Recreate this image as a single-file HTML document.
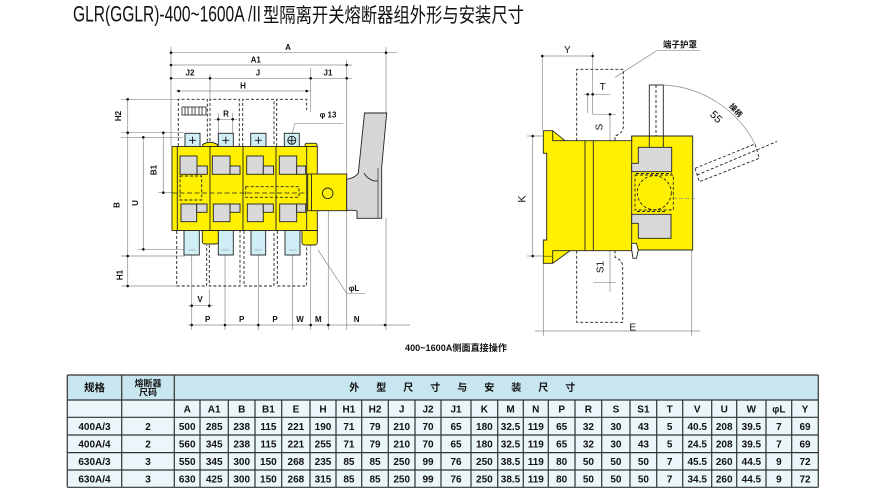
<!DOCTYPE html>
<html><head><meta charset="utf-8">
<style>
html,body{margin:0;padding:0;background:#fff;width:888px;height:499px;overflow:hidden}
svg{display:block}
text{font-family:"Liberation Sans","Noto Sans CJK SC",sans-serif;fill:#111}
</style></head><body>
<svg width="888" height="499" viewBox="0 0 888 499" xmlns="http://www.w3.org/2000/svg">
<rect width="888" height="499" fill="#fff"/>

<!-- Title -->
<text x="73" y="21.5" font-size="22" textLength="188" lengthAdjust="spacingAndGlyphs">GLR(GGLR)-400~1600A /II</text>
<text x="263" y="22" font-size="20" textLength="261" lengthAdjust="spacingAndGlyphs" style="font-family:'Noto Sans CJK SC',sans-serif">型隔离开关熔断器组外形与安装尺寸</text>

<!-- ============ LEFT DRAWING ============ -->
<!-- dimension lines -->
<g stroke="#8a8a8a" stroke-width="0.7" fill="none">
  <path d="M171,52.7H397 M171,65H352 M171,78.3H352 M176,91H311"/>
  <path d="M171,47V146 M210,74V100 M310.7,68V112 M346.7,60V174 M346.7,211V330 M386,47V113 M386,218V330 M328.3,199V330 M310.7,245V330"/>
  <path d="M127.7,99.3V286 M121,99.3H178 M121,132.7H184 M121,137.3H183 M143.3,137.3V249.3 M121,256H185 M138,249.3H185 M121,286H177 M163.3,132.7V192.7 M158,192.7H172"/>
  <path d="M214,119.3H237 M218.3,113V133 M232.7,113V133"/>
  <path d="M188,305.7H213 M188,325H410 M191.7,245V330 M225,245V330 M258.3,245V330 M292.7,245V330 M209.3,290V308"/>
  <path d="M318,250L346.7,293.3H365"/>
  <path d="M291.7,135L295,123.3H343.3"/>
</g>
<g fill="#111">
  <circle cx="171" cy="52.7" r="1.3"/><circle cx="386" cy="52.7" r="1.3"/>
  <circle cx="171" cy="65" r="1.3"/><circle cx="346.7" cy="65" r="1.3"/>
  <circle cx="171" cy="78.3" r="1.3"/><circle cx="210" cy="78.3" r="1.3"/><circle cx="310.7" cy="78.3" r="1.3"/><circle cx="346.7" cy="78.3" r="1.3"/>
  <circle cx="178.7" cy="91" r="1.3"/><circle cx="306.7" cy="91" r="1.3"/>
  <circle cx="127.7" cy="99.3" r="1.3"/><circle cx="127.7" cy="132.7" r="1.3"/><circle cx="143.3" cy="137.3" r="1.3"/>
  <circle cx="163.3" cy="132.7" r="1.3"/><circle cx="163.3" cy="192.7" r="1.3"/><circle cx="143.3" cy="249.3" r="1.3"/>
  <circle cx="127.7" cy="256" r="1.3"/><circle cx="127.7" cy="286" r="1.3"/>
  <circle cx="218.3" cy="119.3" r="1.3"/><circle cx="232.7" cy="119.3" r="1.3"/>
  <circle cx="191.7" cy="305.7" r="1.3"/><circle cx="209.3" cy="305.7" r="1.3"/>
  <circle cx="191.7" cy="325" r="1.3"/><circle cx="225" cy="325" r="1.3"/><circle cx="258.3" cy="325" r="1.3"/>
  <circle cx="310.7" cy="325" r="1.3"/><circle cx="328.3" cy="325" r="1.3"/><circle cx="385" cy="325" r="1.3"/>
</g>
<g font-size="8" font-weight="bold" text-anchor="middle">
  <text x="288" y="50">A</text>
  <text x="255.7" y="62.5">A1</text>
  <text x="190" y="75.5">J2</text>
  <text x="258" y="75.5">J</text>
  <text x="328" y="75.5">J1</text>
  <text x="243" y="88.5">H</text>
  <text x="226" y="116.5">R</text>
  <text x="328" y="117.5">φ 13</text>
  <text x="200" y="302">V</text>
  <text x="207.7" y="322">P</text>
  <text x="241.7" y="322">P</text>
  <text x="275" y="322">P</text>
  <text x="300" y="322">W</text>
  <text x="318.3" y="322">M</text>
  <text x="356.7" y="322">N</text>
  <text x="354" y="291">φL</text>
  <text transform="translate(118,116) rotate(-90)" dy="3">H2</text>
  <text transform="translate(153.3,170) rotate(-90)" dy="3">B1</text>
  <text transform="translate(116.7,205) rotate(-90)" dy="3">B</text>
  <text transform="translate(135,203) rotate(-90)" dy="3">U</text>
  <text transform="translate(119.3,275) rotate(-90)" dy="3">H1</text>
</g>

<!-- dashed covers -->
<g stroke="#222" stroke-width="0.9" fill="none" stroke-dasharray="3,2">
  <path d="M178.3,146V99.3H207.3V146 M210,146V99.3H239.3V146 M242.7,146V99.3H274V146 M276.7,146V99.3H306.7V110"/>
  <path d="M176.7,231V286H206.7V245 M209.3,245V286H240V231 M244,231V286H274V231 M277.3,231V286H306.7V245"/>
</g>
<!-- fuse icon -->
<g stroke="#222" stroke-width="0.8" fill="#fff">
  <rect x="182" y="107" width="24" height="8"/>
  <path d="M185,107V115 M188,107V115 M192,107V115 M195,107V115 M199,107V115 M202,107V115" fill="none"/>
</g>

<!-- terminals -->
<g fill="#cfeef6" stroke="#222" stroke-width="0.9">
  <rect x="185" y="133.3" width="15" height="14"/>
  <rect x="218.3" y="133.3" width="15" height="14"/>
  <rect x="250.7" y="133.3" width="15.3" height="14"/>
  <rect x="284.3" y="133.3" width="15" height="14"/>
  <rect x="184" y="230.5" width="15.3" height="24.5"/>
  <rect x="218.3" y="230.5" width="15" height="24.5"/>
  <rect x="251" y="230.5" width="14.7" height="24.5"/>
  <rect x="285" y="230.5" width="15" height="24.5"/>
</g>
<g stroke="#111" stroke-width="0.9" fill="none">
  <path d="M189,140.3H196 M192.5,136.8V143.8 M222.3,140.3H229.3 M225.8,136.8V143.8 M254.9,140.3H261.9 M258.4,136.8V143.8 M288.3,140.3H295.3 M291.8,136.8V143.8"/>
  <circle cx="291.8" cy="140.3" r="4"/>
</g>
<g stroke="#888" stroke-width="0.6"><path d="M188,250H195.5 M221.5,250H229 M254.5,250H262 M289,250H296.5"/></g>

<!-- body -->
<g stroke="#222" stroke-width="0.9">
  <rect x="202.3" y="228" width="16" height="16" rx="2.5" fill="#fff000"/>
  <rect x="302" y="228" width="15.3" height="17" rx="2.5" fill="#fff000"/>
  <path d="M202.7,148V144.5Q210,140 217.3,144.5V148Z" fill="#fff000"/>
  <path d="M305,148V145.3Q305,143.3 307,143.3H315Q317,143.3 317,145.3V148Z" fill="#fff000"/>
  <rect x="172" y="146.5" width="137" height="84" fill="#fff000"/>
  <rect x="306.7" y="146.5" width="10.6" height="84" fill="#fff000"/>
  <path d="M177.3,146.5V230.5 M210,146.5V230.5 M243,146.5V230.5 M276,146.5V230.5" fill="none"/>
  <path d="M202.3,230.5H218.3 M302,230.5H317.3" fill="none"/>
</g>
<!-- gray squares -->
<g fill="#d8d8d8" stroke="#222" stroke-width="0.9">
  <rect x="180" y="156" width="17" height="18.3"/><rect x="197" y="166" width="10.3" height="8.3"/>
  <rect x="181" y="204" width="15.7" height="17.7"/><rect x="196.7" y="204" width="10.3" height="8.3"/>
  <rect x="212.3" y="156" width="17.7" height="18.3"/><rect x="230" y="166" width="10" height="8.3"/>
  <rect x="213.3" y="204" width="16.7" height="17.7"/><rect x="230" y="204" width="10" height="8.3"/>
  <rect x="246.7" y="156" width="16.6" height="18.3"/><rect x="263.3" y="166" width="10.3" height="8.3"/>
  <rect x="247.3" y="204" width="16" height="17.7"/><rect x="263.3" y="204" width="10" height="8.3"/>
  <rect x="279.3" y="156" width="17.4" height="18.3"/><rect x="296.7" y="166" width="9" height="8.3"/>
  <rect x="279.7" y="204" width="17" height="17.7"/><rect x="296.7" y="204" width="9" height="8.3"/>
</g>
<g stroke="#222" stroke-width="0.9" fill="none" stroke-dasharray="3,2">
  <rect x="180" y="176" width="21.7" height="24"/>
  <rect x="245.7" y="186.7" width="53.3" height="10.6"/>
</g>
<path d="M172,193H345" stroke="#222" stroke-width="0.8" stroke-dasharray="5,2.5" fill="none"/>

<!-- handle -->
<g stroke="#222" stroke-width="0.9">
  <rect x="307.7" y="174" width="39" height="36.7" fill="#fff000"/>
  <path d="M311.5,174V210.7" fill="none"/>
  <circle cx="327.7" cy="193.3" r="5.3" fill="none"/>
  <path d="M364.5,113L386.7,113L381.7,167L381.7,218.3L357,218.3L357,211Q352,209.5 346.7,210.7L346.7,179.3Q355,178 358.3,173.3Z" fill="#d6d6d6"/>
  <path d="M378,168V218.3" fill="none" stroke="#555"/>
  <path d="M364,173.3Q370,182 378,181" fill="none"/>
</g>

<text x="405" y="351" font-size="9" font-weight="bold" textLength="102" lengthAdjust="spacingAndGlyphs">400~1600A侧面直接操作</text>

<!-- ============ RIGHT DRAWING ============ -->
<g stroke="#8a8a8a" stroke-width="0.7" fill="none">
  <path d="M542.3,56H592.7 M542.3,56V130 M592.7,52V114.3"/>
  <path d="M583.3,94.3H610 M587.7,94.3V113.3 M592.7,114.3H616 M610,114.3V140.7"/>
  <path d="M593.3,282.7H616 M610,250.7V291.7"/>
  <path d="M532.7,136V256 M527,136H543 M527,256H543"/>
  <path d="M535,331H700 M543.3,263V336 M691.7,250V336"/>
  <path d="M615,77.3L656.7,50.7H700"/>
  <path d="M664,85A109,109 0 0 1 755,144"/>
</g>
<g fill="#111">
  <circle cx="542.3" cy="56" r="1.3"/><circle cx="592.7" cy="56" r="1.3"/>
  <circle cx="587.7" cy="94.3" r="1.3"/><circle cx="592.7" cy="94.3" r="1.3"/>
  <circle cx="610" cy="114.3" r="1.3"/>
  <circle cx="532.7" cy="136" r="1.3"/><circle cx="532.7" cy="256" r="1.3"/>
</g>
<!-- covers -->
<g stroke="#222" stroke-width="0.9" fill="none" stroke-dasharray="3,2">
  <path d="M576.7,140.7V69.3H623.3V126.7Q623.3,133 615,136V140.7"/>
  <path d="M576.7,250.7V322.3H622.7V266.7Q622.7,260 615,257.3V250.7"/>
</g>
<!-- rod -->
<g stroke="#222" stroke-width="0.9">
  <rect x="649.3" y="85" width="14" height="51" fill="#fff"/>
  <path d="M656,85V136" stroke-dasharray="3,2" fill="none"/>
</g>
<!-- body -->
<g stroke="#222" stroke-width="0.9">
  <path d="M543.3,130.7L552.7,130.7L565,140.7L631.7,140.7L631.7,136L692.7,136L692.7,250L631.7,250L631.7,250.7L570,250.7L552.7,263.3L543.3,263.3L543.3,240L546.7,240L546.7,153.3L543.3,153.3Z" fill="#fff000"/>
  <path d="M552.7,130.7V140.7H565 M552.7,263.3V250.7H570 M585,140.7V250.7 M593.3,140.7V250.7 M631.7,136V250 M649.3,136V147.3 M663.3,136V147.3" fill="none"/>
  <path d="M543.3,256.3H552.7" stroke="#8a7a00" fill="none"/>
  <path d="M638.3,147.3L671.7,147.3L671.7,171.7L631.7,171.7L631.7,163.3L638.3,163.3Z" fill="#d8d8d8"/>
  <path d="M631.7,214.3L671,214.3L671,238.3L638.3,238.3L638.3,223.3L631.7,223.3Z" fill="#d8d8d8"/>
  <path d="M631.7,243.3L636.5,243.3L638.3,250L636.5,258.3L633,258.3L631.7,250Z" fill="#fff"/>
</g>
<g stroke="#222" stroke-width="0.9" fill="none" stroke-dasharray="3,2">
  <rect x="635" y="175" width="38.3" height="35"/>
  <circle cx="654.3" cy="192.7" r="17"/>
  <path d="M636,173.5H672 M637,211.5H667"/>
</g>
<path d="M673,198.3H697" stroke="#888" stroke-width="0.7" stroke-dasharray="4,2" fill="none"/>
<!-- rotated handle -->
<g stroke="#222" stroke-width="0.9" fill="none" stroke-dasharray="3,2">
  <path d="M695,168.3L699.3,181.7L759.3,158.3L755,144Z"/>
  <path d="M697,175L777,141.5"/>
</g>
<g font-size="10" text-anchor="middle">
  <text x="567.3" y="53">Y</text>
  <text x="602.7" y="90">T</text>
  <text transform="translate(599,127) rotate(-90)" dy="3.5">S</text>
  <text transform="translate(600,267) rotate(-90)" dy="3.5">S1</text>
  <text transform="translate(521.7,199) rotate(-90)" dy="4" font-size="11">K</text>
  <text x="632.7" y="330.5">E</text>
  <text transform="translate(716,117) rotate(45)" dy="3.5" font-size="11">55</text>
  <text transform="translate(736,110) rotate(48)" dy="3" font-size="7.5" font-weight="bold">操柄</text>
  <text x="680" y="47.5" font-size="8.5" font-weight="bold">端子护罩</text>
</g>

<!-- ============ TABLE ============ -->
<rect x="67.3" y="375" width="751" height="25" fill="#c8e6ef"/>
<rect x="67.3" y="400" width="751" height="87.3" fill="#eaf6f9"/>
<g stroke="#333" stroke-width="1.2" fill="none">
  <path d="M67.3,375H818.3 M67.3,400H818.3 M67.3,417.3H818.3 M67.3,435H818.3 M67.3,452.6H818.3 M67.3,470H818.3 M67.3,487.3H818.3"/>
  <path d="M67.3,375V487.3 M121.7,375V487.3 M174.3,375V487.3 M818.3,375V487.3"/>
  <path d="M200,400V487.3 M228.3,400V487.3 M255,400V487.3 M281.7,400V487.3 M310,400V487.3 M336,400V487.3 M361.7,400V487.3 M388.3,400V487.3 M415,400V487.3 M441,400V487.3 M471,400V487.3 M497.7,400V487.3 M523.3,400V487.3 M548.3,400V487.3 M575,400V487.3 M601.7,400V487.3 M630,400V487.3 M656.7,400V487.3 M682.7,400V487.3 M711.7,400V487.3 M736.7,400V487.3 M766,400V487.3 M791.7,400V487.3"/>
</g>
<g font-weight="bold" text-anchor="middle">
  <text x="94.5" y="391" font-size="10.5">规格</text>
  <text x="148" y="386.5" font-size="9">熔断器</text>
  <text x="148" y="395.5" font-size="9">尺码</text>
  <text y="391" font-size="10"><tspan x="354.3">外</tspan><tspan x="381.3">型</tspan><tspan x="408.3">尺</tspan><tspan x="435.3">寸</tspan><tspan x="462.3">与</tspan><tspan x="489.3">安</tspan><tspan x="516.3">装</tspan><tspan x="543.3">尺</tspan><tspan x="570.3">寸</tspan></text>
  <text y="412.3" font-size="10"><tspan x="187.2">A</tspan><tspan x="214.2">A1</tspan><tspan x="241.7">B</tspan><tspan x="268.4">B1</tspan><tspan x="295.9">E</tspan><tspan x="323">H</tspan><tspan x="348.9">H1</tspan><tspan x="375">H2</tspan><tspan x="401.7">J</tspan><tspan x="428">J2</tspan><tspan x="456">J1</tspan><tspan x="484.4">K</tspan><tspan x="510.5">M</tspan><tspan x="535.8">N</tspan><tspan x="561.7">P</tspan><tspan x="588.4">R</tspan><tspan x="615.9">S</tspan><tspan x="643.4">S1</tspan><tspan x="669.7">T</tspan><tspan x="697.2">V</tspan><tspan x="724.2">U</tspan><tspan x="751.4">W</tspan><tspan x="778.9">φL</tspan><tspan x="805">Y</tspan></text>
  <text y="429.8" font-size="10"><tspan x="94.5">400A/3</tspan><tspan x="148">2</tspan><tspan x="187.2">500</tspan><tspan x="214.2">285</tspan><tspan x="241.7">238</tspan><tspan x="268.4">115</tspan><tspan x="295.9">221</tspan><tspan x="323">190</tspan><tspan x="348.9">71</tspan><tspan x="375">79</tspan><tspan x="401.7">210</tspan><tspan x="428">70</tspan><tspan x="456">65</tspan><tspan x="484.4">180</tspan><tspan x="510.5">32.5</tspan><tspan x="535.8">119</tspan><tspan x="561.7">65</tspan><tspan x="588.4">32</tspan><tspan x="615.9">30</tspan><tspan x="643.4">43</tspan><tspan x="669.7">5</tspan><tspan x="697.2">40.5</tspan><tspan x="724.2">208</tspan><tspan x="751.4">39.5</tspan><tspan x="778.9">7</tspan><tspan x="805">69</tspan></text>
  <text y="447.4" font-size="10"><tspan x="94.5">400A/4</tspan><tspan x="148">2</tspan><tspan x="187.2">560</tspan><tspan x="214.2">345</tspan><tspan x="241.7">238</tspan><tspan x="268.4">115</tspan><tspan x="295.9">221</tspan><tspan x="323">255</tspan><tspan x="348.9">71</tspan><tspan x="375">79</tspan><tspan x="401.7">210</tspan><tspan x="428">70</tspan><tspan x="456">65</tspan><tspan x="484.4">180</tspan><tspan x="510.5">32.5</tspan><tspan x="535.8">119</tspan><tspan x="561.7">65</tspan><tspan x="588.4">32</tspan><tspan x="615.9">30</tspan><tspan x="643.4">43</tspan><tspan x="669.7">5</tspan><tspan x="697.2">24.5</tspan><tspan x="724.2">208</tspan><tspan x="751.4">39.5</tspan><tspan x="778.9">7</tspan><tspan x="805">69</tspan></text>
  <text y="464.9" font-size="10"><tspan x="94.5">630A/3</tspan><tspan x="148">3</tspan><tspan x="187.2">550</tspan><tspan x="214.2">345</tspan><tspan x="241.7">300</tspan><tspan x="268.4">150</tspan><tspan x="295.9">268</tspan><tspan x="323">235</tspan><tspan x="348.9">85</tspan><tspan x="375">85</tspan><tspan x="401.7">250</tspan><tspan x="428">99</tspan><tspan x="456">76</tspan><tspan x="484.4">250</tspan><tspan x="510.5">38.5</tspan><tspan x="535.8">119</tspan><tspan x="561.7">80</tspan><tspan x="588.4">50</tspan><tspan x="615.9">50</tspan><tspan x="643.4">50</tspan><tspan x="669.7">7</tspan><tspan x="697.2">45.5</tspan><tspan x="724.2">260</tspan><tspan x="751.4">44.5</tspan><tspan x="778.9">9</tspan><tspan x="805">72</tspan></text>
  <text y="482.3" font-size="10"><tspan x="94.5">630A/4</tspan><tspan x="148">3</tspan><tspan x="187.2">630</tspan><tspan x="214.2">425</tspan><tspan x="241.7">300</tspan><tspan x="268.4">150</tspan><tspan x="295.9">268</tspan><tspan x="323">315</tspan><tspan x="348.9">85</tspan><tspan x="375">85</tspan><tspan x="401.7">250</tspan><tspan x="428">99</tspan><tspan x="456">76</tspan><tspan x="484.4">250</tspan><tspan x="510.5">38.5</tspan><tspan x="535.8">119</tspan><tspan x="561.7">80</tspan><tspan x="588.4">50</tspan><tspan x="615.9">50</tspan><tspan x="643.4">50</tspan><tspan x="669.7">7</tspan><tspan x="697.2">34.5</tspan><tspan x="724.2">260</tspan><tspan x="751.4">44.5</tspan><tspan x="778.9">9</tspan><tspan x="805">72</tspan></text>
</g>
</svg>
</body></html>
